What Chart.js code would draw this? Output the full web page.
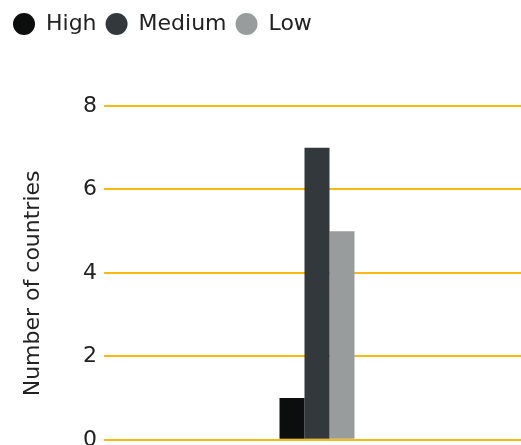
<!DOCTYPE html>
<html>
<head>
<meta charset="utf-8">
<script src="https://cdn.jsdelivr.net/npm/chart.js@4.4.0/dist/chart.umd.min.js"></script>
<style>
  html, body { margin: 0; padding: 0; background: #fff; overflow: hidden; }
  #wrap { width: 530px; height: 460px; position: relative; }
</style>
</head>
<body>
<div id="wrap"><canvas id="c"></canvas></div>
<script>
const categories = [''];
const seriesNames = ['High', 'Medium', 'Low'];
const highValues = [1];
const mediumValues = [7];
const lowValues = [5];
const yTicks = [0, 2, 4, 6, 8];
const yTitle = 'Number of countries';

const colors = ['#0c0e0d', '#33383c', '#999c9d'];
const FONT = "'DejaVu Sans', sans-serif";

const legendSpace = {
  id: 'legendSpace',
  beforeInit(chart) {
    const orig = chart.legend.fit;
    chart.legend.fit = function () {
      orig.call(this);
      this.height += 61;
    };
  }
};

new Chart(document.getElementById('c'), {
  type: 'bar',
  data: {
    labels: categories,
    datasets: [
      { label: seriesNames[0], data: highValues, backgroundColor: colors[0] },
      { label: seriesNames[1], data: mediumValues, backgroundColor: colors[1] },
      { label: seriesNames[2], data: lowValues, backgroundColor: colors[2] }
    ]
  },
  options: {
    responsive: true,
    maintainAspectRatio: false,
    animation: false,
    layout: { padding: { top: 4, left: 4, right: 0, bottom: 5 } },
    datasets: { bar: { categoryPercentage: 75 / 426, barPercentage: 1 } },
    plugins: {
      legend: {
        position: 'top',
        align: 'start',
        labels: {
          usePointStyle: true,
          pointStyle: 'circle',
          pointStyleWidth: 22,
          boxHeight: 15.56,
          padding: 9,
          color: '#222',
          font: { family: FONT, size: 22 }
        }
      },
      tooltip: { enabled: false }
    },
    scales: {
      x: {
        ticks: { display: false },
        grid: { display: false },
        border: { display: false }
      },
      y: {
        min: 0,
        max: 8,
        afterBuildTicks(scale) { scale.ticks = yTicks.map(v => ({ value: v })); },
        afterFit(scale) { scale.width = 100; },
        ticks: { color: '#222', padding: 7, font: { family: FONT, size: 22 } },
        grid: { color: '#f9b90f', lineWidth: 2, drawTicks: false },
        border: { display: false },
        title: {
          display: true,
          text: yTitle + '   ',
          color: '#222',
          padding: { top: 16, bottom: 0 },
          font: { family: FONT, size: 22 }
        }
      }
    }
  },
  plugins: [legendSpace]
});
</script>
</body>
</html>
